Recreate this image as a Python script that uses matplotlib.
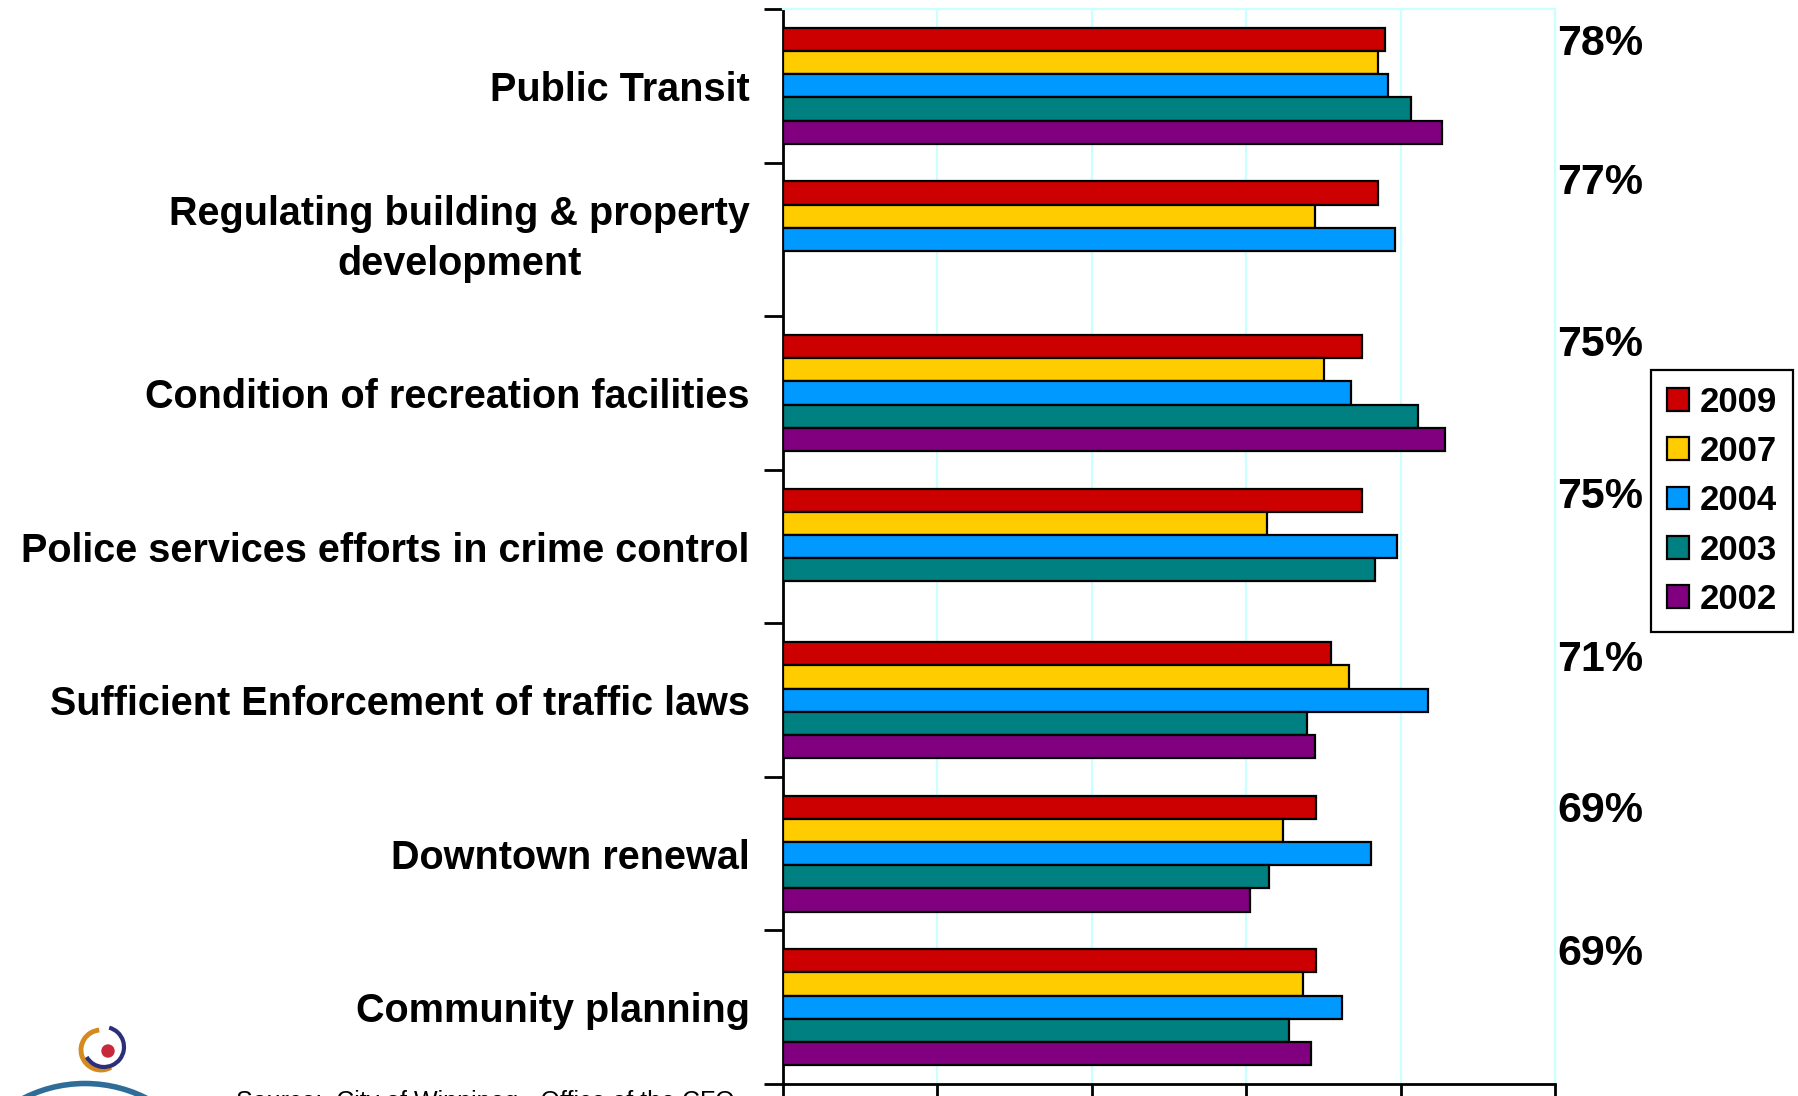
import numpy as np
import matplotlib
matplotlib.use('Agg')
import matplotlib.pyplot as plt
from matplotlib.patches import Arc, Circle

plt.rcParams['font.family'] = ['Liberation Sans', 'DejaVu Sans']

# survey items, top to bottom
categories = ['Public Transit',
              'Regulating building & property\ndevelopment',
              'Condition of recreation facilities',
              'Police services efforts in crime control',
              'Sufficient Enforcement of traffic laws',
              'Downtown renewal',
              'Community planning']

years = ['2009', '2007', '2004', '2003', '2002']

# percent satisfied per year (nan = not asked that year)
pct_2009 = [78, 77, 75, 75, 71, 69, 69]
pct_2007 = [77.1, 68.9, 70.1, 62.7, 73.3, 64.8, 67.3]
pct_2004 = [78.3, 79.2, 73.6, 79.5, 83.5, 76.1, 72.4]
pct_2003 = [81.4, np.nan, 82.3, 76.7, 67.9, 63.0, 65.5]
pct_2002 = [85.4, np.nan, 85.7, np.nan, 68.9, 60.5, 68.4]

series = [pct_2009, pct_2007, pct_2004, pct_2003, pct_2002]
colors = ['#CC0000', '#FFCC00', '#0099FF', '#008080', '#800080']

# vertical offset of the 2009 label above each group
label_raise = [0.27, 0.37, 0.31, 0.32, 0.26, 0.28, 0.35]

fig = plt.figure(figsize=(17.98, 10.96), dpi=100)
ax = fig.add_axes([0.4355, 0.0109, 0.4294, 0.9809])

pos = np.arange(len(categories))
h = 0.151
for j, (vals, col, yr) in enumerate(zip(series, colors, years)):
    ax.barh(pos + (j - 2) * h, vals, height=h, color=col,
            edgecolor='black', linewidth=1.6, label=yr, zorder=3)

ax.set_xlim(0, 100)
ax.set_ylim(len(categories) - 0.5, -0.5)

ax.set_xticks(np.arange(0, 101, 20))
ax.set_xticklabels([])
ax.tick_params(axis='x', direction='out', length=14, width=2, colors='black')
ax.grid(axis='x', color='#CCFFFF', linewidth=1.6, zorder=0)

# category names on major ticks, boundary marks on minor ticks
ax.set_yticks(pos)
ax.set_yticklabels(categories, fontsize=28.5, fontweight='bold')
ax.set_yticks(np.arange(-0.5, len(categories), 1), minor=True)
ax.tick_params(axis='y', which='major', length=0, pad=24)
ax.tick_params(axis='y', which='minor', direction='out', length=14, width=2)
for t in ax.get_yticklabels():
    t.set_multialignment('center')
    t.set_linespacing(1.4)
    if '\n' in t.get_text():
        t.set_verticalalignment('center')

for side in ['top', 'right']:
    ax.spines[side].set_color('#CCFFFF')
    ax.spines[side].set_linewidth(1.6)
for side in ['left', 'bottom']:
    ax.spines[side].set_color('black')
    ax.spines[side].set_linewidth(2)

for i, v in enumerate(pct_2009):
    ax.text(100.3, pos[i] - label_raise[i], '%d%%' % v, fontsize=31,
            fontweight='bold', ha='left', va='center', clip_on=False)

fig.legend(loc='upper left', bbox_to_anchor=(0.9183, 0.6624),
           borderaxespad=0, fancybox=False, edgecolor='black',
           framealpha=1, handlelength=0.63, handleheight=0.63,
           handletextpad=0.33, labelspacing=0.47, borderpad=0.45,
           prop={'size': 25, 'weight': 'bold'}).get_frame().set_linewidth(1.6)

fig.text(0.131, 0.0055, 'Source:  City of Winnipeg - Office of the CFO',
         fontsize=18, ha='left', va='top')

# small logo in the corner (axes units are pixels)
logo = fig.add_axes([0.0, 0.0, 0.12, 0.1])
logo.set_xlim(0, 215.76)
logo.set_ylim(0, 109.6)
logo.axis('off')
logo.add_patch(Arc((101, 46), 40, 40, theta1=95, theta2=300,
                   color='#D48A1E', linewidth=3.5))
logo.add_patch(Arc((104, 49), 40, 40, theta1=-150, theta2=75,
                   color='#2B2F7A', linewidth=3))
logo.add_patch(Circle((108, 45), 6, color='#C8283C'))
logo.add_patch(Arc((85, -123), 271, 271, theta1=60, theta2=120,
                   color='#2F6D98', linewidth=4))

fig.savefig('out.png', dpi=100)
